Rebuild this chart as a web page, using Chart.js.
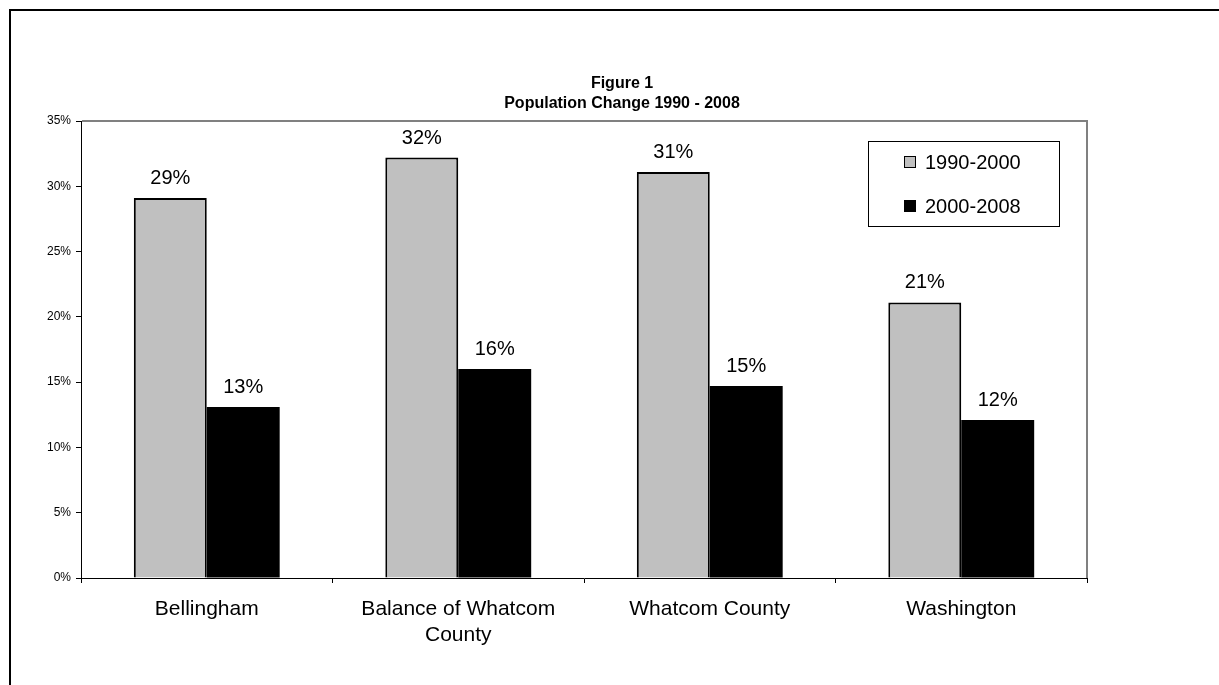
<!DOCTYPE html>
<html><head><meta charset="utf-8">
<script src="https://cdn.jsdelivr.net/npm/chart.js@4.4.1/dist/chart.umd.min.js"></script>
<style>html,body{margin:0;padding:0;background:#fff;overflow:hidden}#wrap{width:1219px;height:685px;position:relative}</style>
</head><body><div id="wrap"><canvas id="c" width="1219" height="685"></canvas></div>
<script>
const categories = [["Bellingham"], ["Balance of Whatcom", "County"], ["Whatcom County"], ["Washington"]];
const seriesNames = ["1990-2000", "2000-2008"];
const values1990_2000 = [29.1, 32.2, 31.1, 21.1];
const values2000_2008 = [13.1, 16.0, 14.7, 12.1];
const yTicks = [0, 5, 10, 15, 20, 25, 30, 35];
const titleLines = ["Figure 1", "Population Change 1990 - 2008"];

const FONT = "'Liberation Sans', Arial, sans-serif";

const framePlugin = {
  id: 'frame',
  beforeDraw(chart) {
    const ctx = chart.ctx;
    ctx.save();
    ctx.fillStyle = '#fff';
    ctx.fillRect(0, 0, chart.width, chart.height);
    ctx.strokeStyle = '#000';
    ctx.lineWidth = 2;
    ctx.strokeRect(10, 10, 1400, 900);
    ctx.restore();
  },
  afterDraw(chart) {
    const ctx = chart.ctx, a = chart.chartArea;
    ctx.save();
    ctx.strokeStyle = '#808080';
    ctx.lineWidth = 2;
    ctx.beginPath();
    ctx.moveTo(a.left + 1, a.top);
    ctx.lineTo(a.right, a.top);
    ctx.lineTo(a.right, a.bottom);
    ctx.stroke();
    ctx.fillStyle = '#000';
    ctx.font = 'bold 16px ' + FONT;
    ctx.textAlign = 'center';
    ctx.textBaseline = 'middle';
    titleLines.forEach((t, i) => ctx.fillText(t, 622, 84 + i * 20));
    ctx.lineWidth = 1;
    ctx.strokeStyle = '#000';
    ctx.strokeRect(868.5, 141.5, 191, 85);
    ctx.font = '20px ' + FONT;
    ctx.textAlign = 'left';
    chart.data.datasets.forEach((ds, i) => {
      const cy = 162 + i * 44;
      ctx.fillStyle = ds.backgroundColor;
      ctx.fillRect(904, cy - 6, 12, 12);
      ctx.strokeStyle = '#000';
      ctx.strokeRect(904.5, cy - 5.5, 11, 11);
      ctx.fillStyle = '#000';
      ctx.fillText(ds.label, 925, cy + 1);
    });
    ctx.restore();
  },
  afterDatasetsDraw(chart) {
    const ctx = chart.ctx;
    ctx.save();
    ctx.fillStyle = '#000';
    ctx.font = '20px ' + FONT;
    ctx.textAlign = 'center';
    ctx.textBaseline = 'alphabetic';
    chart.data.datasets.forEach((ds, di) => {
      chart.getDatasetMeta(di).data.forEach((el, i) => {
        ctx.fillText(Math.round(ds.data[i]) + '%', el.x, el.y - 14);
      });
    });
    ctx.restore();
  }
};

new Chart(document.getElementById('c'), {
  type: 'bar',
  data: {
    labels: categories,
    datasets: [
      { label: seriesNames[0], data: values1990_2000, backgroundColor: '#C0C0C0', borderColor: '#000', borderWidth: 2,
        categoryPercentage: 0.58, barPercentage: 1 },
      { label: seriesNames[1], data: values2000_2008, backgroundColor: '#000000', borderColor: '#000', borderWidth: 0,
        categoryPercentage: 0.58, barPercentage: 1 }
    ]
  },
  options: {
    responsive: false,
    animation: false,
    devicePixelRatio: 1,
    layout: { padding: { top: 121, left: 10, right: 132, bottom: 0 } },
    plugins: { legend: { display: false }, title: { display: false }, tooltip: { enabled: false } },
    scales: {
      x: {
        afterFit(s) { s.height = 107; },
        grid: { display: true, drawOnChartArea: false, drawTicks: true, tickLength: 5, color: '#000', offset: true },
        border: { display: true, color: '#000', width: 1 },
        ticks: { color: '#000', padding: 14, font: { family: FONT, size: 21 }, maxRotation: 0, autoSkip: false }
      },
      y: {
        min: 0, max: 35,
        afterFit(s) { s.width = 71; },
        afterBuildTicks(s) { s.ticks = yTicks.map(v => ({ value: v })); },
        grid: { display: true, drawOnChartArea: false, drawTicks: true, tickLength: 5, color: '#000' },
        border: { display: true, color: '#000', width: 1 },
        ticks: { color: '#000', padding: 5, font: { family: FONT, size: 12 }, callback: v => v + '%' }
      }
    }
  },
  plugins: [framePlugin]
});
</script>
</body></html>
